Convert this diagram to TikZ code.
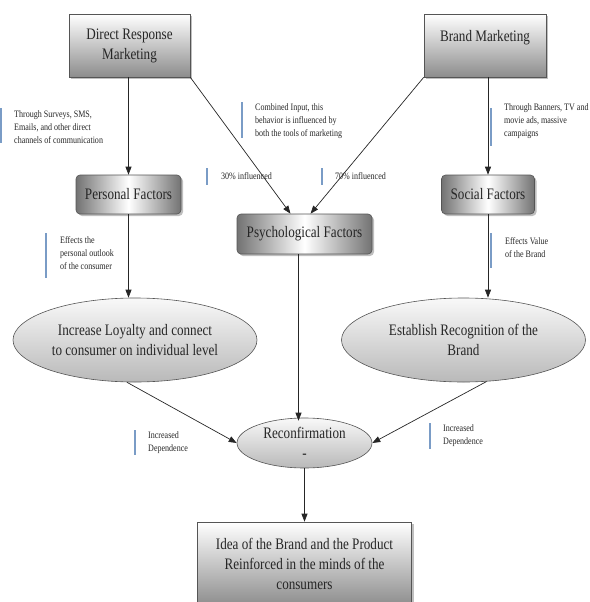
\documentclass[tikz,border=0pt]{standalone}
\usepackage{fontspec}
\setmainfont{Liberation Serif}[FakeStretch=0.82]
\usetikzlibrary{arrows.meta,shadows,calc,shapes.geometric}
\definecolor{barblue}{HTML}{7A9CC6}
\definecolor{edgegray}{HTML}{555555}
\tikzset{
  bigtext/.style={font=\fontsize{16}{20}\selectfont, align=center, text=black!85},
  sqbox/.style={bigtext, draw=edgegray, line width=0.6pt, inner sep=0pt,
    top color=white, bottom color=black!45,
    drop shadow={shadow xshift=2pt, shadow yshift=-2pt, opacity=0.25, fill=black}},
  rbox/.style={bigtext, draw=edgegray, line width=0.6pt, inner sep=0pt, rounded corners=4pt,
    left color=black!55, right color=black!55, middle color=white,
    drop shadow={shadow xshift=2pt, shadow yshift=-2pt, opacity=0.25, fill=black}},
  ellbox/.style={bigtext, ellipse, draw=edgegray, line width=0.6pt, inner sep=0pt,
    top color=gray!5, bottom color=gray!55},
  note/.style={font=\fontsize{9.8}{13}\selectfont, align=left, anchor=west, inner sep=0pt, text=black!85},
  notebar/.style={draw=barblue, line width=1.1pt},
  arr/.style={draw=black!85, line width=0.7pt, -{Triangle[length=8pt,width=6pt]}},
}
\begin{document}
\begin{tikzpicture}[x=1pt,y=-1pt]
\useasboundingbox (0,0) rectangle (589,602);
% boxes
\node[sqbox, minimum width=121pt, minimum height=63pt] (drm) at (129.5,45.5) {Direct Response\\Marketing};
\node[sqbox, minimum width=122pt, minimum height=63pt] (bm) at (485,45.5) {Brand Marketing\\\mbox{}};
\node[rbox, minimum width=105pt, minimum height=39pt] (pf) at (128.5,194.5) {Personal Factors};
\node[rbox, minimum width=93pt, minimum height=39pt] (sf) at (488,194.5) {Social Factors};
\node[rbox, minimum width=135pt, minimum height=40pt] (psy) at (304.5,234) {Psychological Factors};
\node[ellbox, minimum width=244pt, minimum height=84pt] (le) at (135,340) {Increase Loyalty and connect\\to consumer on individual level};
\node[ellbox, minimum width=244pt, minimum height=84pt] (re) at (463.5,340) {Establish Recognition of the\\Brand};
\node[ellbox, minimum width=135pt, minimum height=50pt] (rc) at (304.5,443) {Reconfirmation\\-};
\node[sqbox, minimum width=214pt, minimum height=84pt] (fin) at (304.5,564) {Idea of the Brand and the Product\\Reinforced in the minds of the\\consumers};
% arrows
\draw[arr] (drm.south -| pf.north) -- (pf.north);
\draw[arr] (bm.south -| sf.north) -- (sf.north);
\draw[arr] (drm.south east) -- ([xshift=-14pt]psy.north);
\draw[arr] (bm.south west) -- ([xshift=6pt]psy.north);
\draw[arr] (pf.south) -- (pf.south |- le.north);
\draw[arr] (sf.south) -- (sf.south |- re.north);
\draw[arr] ([xshift=-6pt]psy.south) -- ([xshift=-6pt,yshift=-3pt]rc.north);
\draw[arr] (le.-101) -- (rc.west);
\draw[arr] (re.-61) -- (rc.east);
\draw[arr] (rc.south) -- (fin.north);
% notes
\draw[notebar] (1,108) -- (1,143);
\node[note] (n1) at (14,127) {Through Surveys, SMS,\\Emails, and other direct\\channels of communication};
\draw[notebar] (242,102) -- (242,138);
\node[note] (n2) at (255,121) {Combined Input, this\\behavior is influenced by\\both the tools of marketing};
\draw[notebar] (491,108) -- (491,146);
\node[note] (n3) at (504,121) {Through Banners, TV and\\movie ads, massive\\campaigns};
\draw[notebar] (207,168) -- (207,185);
\node[note] (n4) at (221,176) {30\% influenced};
\draw[notebar] (322,168) -- (322,185);
\node[note] (n5) at (335,176) {70\% influenced};
\draw[notebar] (46,233) -- (46,278);
\node[note] (n6) at (60,253) {Effects the\\personal outlook\\of the consumer};
\draw[notebar] (491,233) -- (491,268);
\node[note] (n7) at (505,247.5) {Effects Value\\of the Brand};
\draw[notebar] (135,430) -- (135,455);
\node[note] (n8) at (148,443) {Increased\\Dependence};
\draw[notebar] (430,423) -- (430,449);
\node[note] (n9) at (443,436) {Increased\\Dependence};
\end{tikzpicture}
\end{document}
